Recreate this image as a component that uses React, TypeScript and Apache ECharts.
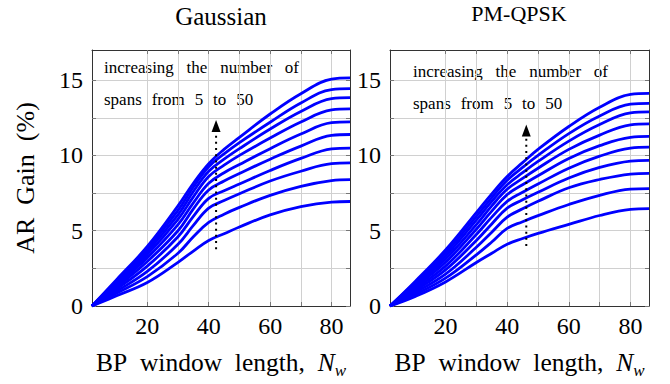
import React, { useEffect, useRef } from "react";
import * as echarts from "echarts";

// BP window length N_w at which the gains are read
const windowLengths = [2, 10, 20, 30, 35, 40, 45, 50, 60, 70, 80, 86];
// number of spans, one curve each (bottom to top)
const spanCounts = [5, 10, 15, 20, 25, 30, 35, 40, 45, 50];

// AR gain (%) for Gaussian input, one row per span count
const gaussianGain = [
  [0, 0.68, 1.56, 2.9, 3.65, 4.35, 4.8, 5.25, 6.05, 6.6, 6.9, 6.94],
  [0, 0.84, 1.95, 3.5, 4.6, 5.55, 6.1, 6.55, 7.35, 7.95, 8.33, 8.39],
  [0, 0.98, 2.3, 4.1, 5.35, 6.5, 7.0, 7.45, 8.3, 8.95, 9.45, 9.5],
  [0, 1.12, 2.65, 4.6, 5.95, 7.15, 7.65, 8.1, 9.0, 9.8, 10.43, 10.49],
  [0, 1.24, 2.95, 5.0, 6.45, 7.7, 8.3, 8.8, 9.75, 10.62, 11.33, 11.39],
  [0, 1.36, 3.2, 5.4, 6.85, 8.15, 8.85, 9.4, 10.45, 11.42, 12.17, 12.23],
  [0, 1.47, 3.42, 5.75, 7.25, 8.6, 9.35, 10.0, 11.15, 12.22, 13.02, 13.09],
  [0, 1.57, 3.62, 6.05, 7.6, 8.95, 9.75, 10.45, 11.75, 12.92, 13.77, 13.84],
  [0, 1.66, 3.8, 6.35, 7.9, 9.25, 10.1, 10.85, 12.2, 13.48, 14.37, 14.43],
  [0, 1.75, 3.95, 6.65, 8.15, 9.45, 10.4, 11.2, 12.75, 14.1, 15.07, 15.15],
];

// AR gain (%) for PM-QPSK, one row per span count
const qpskGain = [
  [0, 0.62, 1.6, 2.89, 3.5, 4.1, 4.48, 4.82, 5.42, 6.01, 6.41, 6.46],
  [0, 0.75, 1.85, 3.4, 4.25, 5.15, 5.6, 6.0, 6.74, 7.35, 7.76, 7.8],
  [0, 0.88, 2.12, 3.9, 4.9, 5.9, 6.45, 6.95, 7.85, 8.4, 8.76, 8.81],
  [0, 1.0, 2.4, 4.35, 5.45, 6.5, 7.05, 7.55, 8.5, 9.2, 9.62, 9.67],
  [0, 1.12, 2.65, 4.75, 5.9, 6.95, 7.55, 8.1, 9.15, 9.95, 10.48, 10.55],
  [0, 1.23, 2.9, 5.1, 6.3, 7.4, 8.05, 8.65, 9.8, 10.65, 11.2, 11.26],
  [0, 1.34, 3.12, 5.4, 6.65, 7.75, 8.47, 9.15, 10.4, 11.35, 12.03, 12.1],
  [0, 1.44, 3.32, 5.7, 6.95, 8.05, 8.85, 9.6, 10.95, 12.05, 12.82, 12.89],
  [0, 1.52, 3.52, 5.95, 7.2, 8.35, 9.2, 10.0, 11.45, 12.62, 13.4, 13.46],
  [0, 1.6, 3.72, 6.2, 7.45, 8.6, 9.52, 10.4, 11.92, 13.2, 14.05, 14.12],
];

const panelTitles = ["Gaussian", "PM-QPSK"];
const xTickValues = [20, 30, 40, 50, 60, 70, 80];
const xLabelValues = [20, 40, 60, 80];
const yTickValues = [0, 2.5, 5, 7.5, 10, 12.5, 15];
const yLabelValues = [0, 5, 10, 15];
const annotationLine1 = ["increasing", "the", "number", "of"];
const annotationLine2 = ["spans", "from", "5", "to", "50"];
// dotted arrow: x position, start value, tip value (per panel)
const arrowX = [42.4, 46.2];
const arrowStart = [3.77, 3.98];
const arrowTip = [12.35, 12.05];

const FONT = "Liberation Serif";
const BLUE = "#0000ff";

export default function App() {
  const ref = useRef<HTMLDivElement>(null);

  useEffect(() => {
    if (!ref.current) return;
    const chart = echarts.init(ref.current, undefined, { renderer: "svg" });

    const grids = [
      { left: 92, top: 50, width: 258, height: 257 },
      { left: 390, top: 50, width: 259, height: 257 },
    ];

    const xAxes: any[] = [];
    const yAxes: any[] = [];
    grids.forEach((_, gi) => {
      xAxes.push({
        type: "value",
        gridIndex: gi,
        min: 2,
        max: 86,
        position: "bottom",
        axisLine: { show: true, onZero: false, lineStyle: { color: "#333", width: 1 } },
        axisTick: {
          show: true,
          inside: true,
          length: 4,
          customValues: xTickValues,
          lineStyle: { color: "#777" },
        },
        axisLabel: {
          show: true,
          customValues: xLabelValues,
          margin: 8,
          fontSize: 24,
          fontFamily: FONT,
          color: "#000",
        },
        splitLine: { show: true, lineStyle: { color: "#d0d0d0", width: 1 } },
        name: "BP\u00A0 window\u00A0 length,\u00A0 {i|N}{s|w}",
        nameLocation: "middle",
        nameGap: 40,
        nameTextStyle: {
          fontSize: 25.5,
          fontFamily: FONT,
          color: "#000",
          rich: {
            i: { fontSize: 25.5, fontFamily: FONT, fontStyle: "italic", color: "#000", lineHeight: 33 },
            s: {
              fontSize: 17,
              fontFamily: FONT,
              fontStyle: "italic",
              color: "#000",
              lineHeight: 17,
              verticalAlign: "bottom",
            },
          },
        },
      });
      xAxes.push({
        type: "value",
        gridIndex: gi,
        min: 2,
        max: 86,
        position: "top",
        axisLine: { show: true, onZero: false, lineStyle: { color: "#333", width: 1 } },
        axisTick: {
          show: true,
          inside: true,
          length: 4,
          customValues: xTickValues,
          lineStyle: { color: "#777" },
        },
        axisLabel: { show: false },
        splitLine: { show: false },
      });
      yAxes.push({
        type: "value",
        gridIndex: gi,
        min: 0,
        max: 17,
        position: "left",
        axisLine: { show: true, onZero: false, lineStyle: { color: "#333", width: 1 } },
        axisTick: {
          show: true,
          inside: true,
          length: 4,
          customValues: yTickValues,
          lineStyle: { color: "#777" },
        },
        axisLabel: {
          show: true,
          customValues: yLabelValues,
          margin: 9,
          fontSize: 24,
          fontFamily: FONT,
          color: "#000",
        },
        splitLine: { show: true, lineStyle: { color: "#d0d0d0", width: 1 } },
        name: gi === 0 ? "AR\u00A0 Gain\u00A0 (%)" : "",
        nameLocation: "middle",
        nameGap: 54,
        nameTextStyle: { fontSize: 26, fontFamily: FONT, color: "#000" },
      });
      yAxes.push({
        type: "value",
        gridIndex: gi,
        min: 0,
        max: 17,
        position: "right",
        axisLine: { show: true, onZero: false, lineStyle: { color: "#333", width: 1 } },
        axisTick: {
          show: true,
          inside: true,
          length: 4,
          customValues: yTickValues,
          lineStyle: { color: "#777" },
        },
        axisLabel: { show: false },
        splitLine: { show: false },
      });
    });

    const series: any[] = [];
    [gaussianGain, qpskGain].forEach((gains, p) => {
      gains.forEach((row, k) => {
        series.push({
          type: "line",
          name: `${panelTitles[p]} ${spanCounts[k]} spans`,
          xAxisIndex: 2 * p,
          yAxisIndex: 2 * p,
          data: windowLengths.map((x, i) => [x, row[i]]),
          showSymbol: false,
          symbol: "none",
          smooth: 0.4,
          lineStyle: { color: BLUE, width: 2.8 },
          z: 3,
          silent: true,
        });
      });
      series.push({
        type: "line",
        name: `arrow ${p}`,
        xAxisIndex: 2 * p,
        yAxisIndex: 2 * p,
        data: [
          [arrowX[p], arrowStart[p]],
          [arrowX[p], arrowTip[p] - 0.6],
        ],
        showSymbol: false,
        symbol: "none",
        lineStyle: { color: "#000", width: 2, type: [2, 4.2], cap: "butt" },
        z: 4,
        silent: true,
        markPoint: {
          silent: true,
          symbol: "triangle",
          symbolSize: [9, 12],
          symbolOffset: [0, "50%"],
          itemStyle: { color: "#000" },
          label: { show: false },
          data: [{ coord: [arrowX[p], arrowTip[p]] }],
        },
      });
    });

    const textStyle = (text: string, size: number, align: string, vAlign: string) => ({
      text,
      fontSize: size,
      fontFamily: FONT,
      font: `${size}px "${FONT}"`,
      fill: "#000",
      align,
      verticalAlign: vAlign,
      textAlign: align,
      textVerticalAlign: vAlign,
    });

    const sep1 = "\u2002\u00A0";
    const sep2 = "\u2002\u200A";

    chart.setOption({
      animation: false,
      backgroundColor: "#fff",
      textStyle: { fontFamily: FONT },
      grid: grids,
      xAxis: xAxes,
      yAxis: yAxes,
      series,
      graphic: [
        { type: "text", x: 221, y: 16, style: textStyle(panelTitles[0], 25, "center", "middle") },
        { type: "text", x: 519, y: 13.5, style: textStyle(panelTitles[1], 22, "center", "middle") },
        { type: "text", x: 104, y: 67.5, style: textStyle(annotationLine1.join(sep1), 17, "left", "middle") },
        { type: "text", x: 104, y: 99.5, style: textStyle(annotationLine2.join(sep2), 17, "left", "middle") },
        { type: "text", x: 413, y: 71.5, style: textStyle(annotationLine1.join(sep1), 17, "left", "middle") },
        { type: "text", x: 413, y: 103.5, style: textStyle(annotationLine2.join(sep2), 17, "left", "middle") },
      ],
    });

    return () => chart.dispose();
  }, []);

  return (
    <div
      ref={ref}
      style={{ position: "absolute", left: 0, top: 0, width: 670, height: 384, background: "#fff" }}
    />
  );
}
